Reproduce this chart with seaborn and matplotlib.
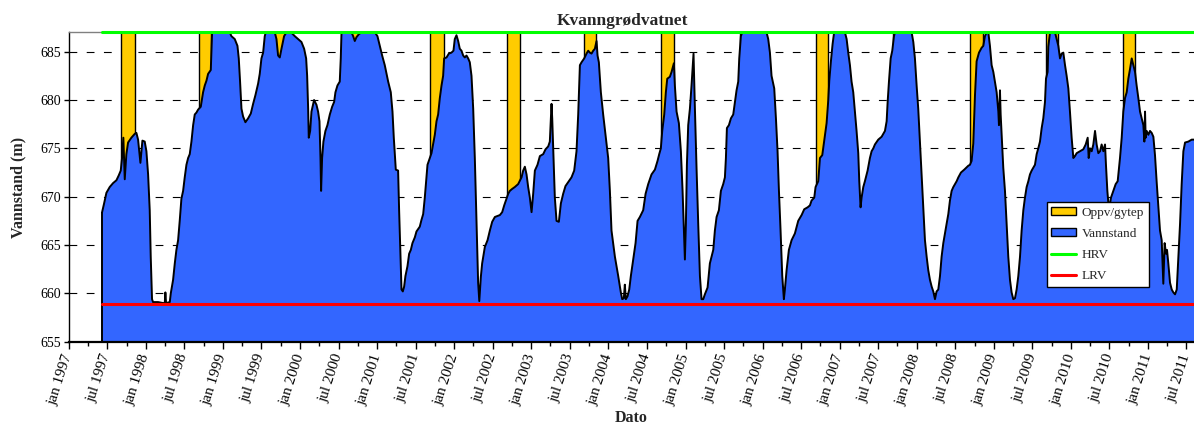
import numpy as np
import pandas as pd
import matplotlib
matplotlib.use("Agg")
import matplotlib.pyplot as plt
import matplotlib.dates as mdates
from matplotlib.patches import Patch
from matplotlib.lines import Line2D
from matplotlib.ticker import FuncFormatter
import seaborn as sns

# Water level of Kvanngrødvatnet: time as decimal year, level in metres
level_time = [
    1997.429, 1997.455, 1997.485, 1997.528, 1997.571, 1997.615, 1997.645, 1997.671,
    1997.688, 1997.705, 1997.723, 1997.744, 1997.766, 1997.809, 1997.853, 1997.874,
    1997.896, 1997.926, 1997.952, 1997.982, 1998.004, 1998.026, 1998.047, 1998.060,
    1998.077, 1998.090, 1998.155, 1998.220, 1998.242, 1998.250, 1998.259, 1998.307,
    1998.320, 1998.350, 1998.372, 1998.393, 1998.415, 1998.436, 1998.458, 1998.480,
    1998.501, 1998.523, 1998.545, 1998.566, 1998.588, 1998.610, 1998.631, 1998.653,
    1998.674, 1998.709, 1998.739, 1998.761, 1998.783, 1998.804, 1998.839, 1998.856,
    1999.085, 1999.107, 1999.150, 1999.185, 1999.202, 1999.219, 1999.237, 1999.258,
    1999.288, 1999.323, 1999.358, 1999.388, 1999.418, 1999.453, 1999.474, 1999.496,
    1999.518, 1999.539, 1999.552, 1999.669, 1999.691, 1999.712, 1999.734, 1999.756,
    1999.790, 1999.820, 1999.880, 1999.929, 1999.972, 2000.015, 2000.050, 2000.076,
    2000.089, 2000.102, 2000.110, 2000.128, 2000.145, 2000.179, 2000.210, 2000.231,
    2000.249, 2000.262, 2000.270, 2000.283, 2000.300, 2000.326, 2000.352, 2000.383,
    2000.413, 2000.439, 2000.456, 2000.482, 2000.512, 2000.525, 2000.534, 2000.543,
    2000.664, 2000.686, 2000.707, 2000.729, 2000.759, 2000.794, 2000.967, 2001.001,
    2001.031, 2001.062, 2001.096, 2001.140, 2001.174, 2001.196, 2001.213, 2001.239,
    2001.269, 2001.282, 2001.300, 2001.313, 2001.330, 2001.347, 2001.364, 2001.390,
    2001.412, 2001.434, 2001.455, 2001.486, 2001.507, 2001.550, 2001.572, 2001.594,
    2001.615, 2001.633, 2001.650, 2001.680, 2001.702, 2001.745, 2001.767, 2001.788,
    2001.810, 2001.832, 2001.853, 2001.866, 2001.897, 2001.927, 2001.961, 2001.987,
    2002.004, 2002.026, 2002.048, 2002.069, 2002.091, 2002.113, 2002.134, 2002.156,
    2002.178, 2002.199, 2002.221, 2002.243, 2002.264, 2002.286, 2002.307, 2002.322,
    2002.342, 2002.359, 2002.394, 2002.429, 2002.459, 2002.489, 2002.524, 2002.558,
    2002.589, 2002.619, 2002.645, 2002.675, 2002.697, 2002.718, 2002.748, 2002.783,
    2002.826, 2002.870, 2002.891, 2002.913, 2002.935, 2002.956, 2002.978, 2003.000,
    2003.021, 2003.043, 2003.077, 2003.108, 2003.151, 2003.181, 2003.216, 2003.237,
    2003.259, 2003.268, 2003.285, 2003.302, 2003.324, 2003.354, 2003.380, 2003.410,
    2003.440, 2003.475, 2003.518, 2003.553, 2003.583, 2003.605, 2003.627, 2003.648,
    2003.683, 2003.713, 2003.735, 2003.756, 2003.778, 2003.800, 2003.821, 2003.843,
    2003.856, 2003.873, 2003.899, 2003.929, 2003.960, 2003.994, 2004.016, 2004.037,
    2004.081, 2004.124, 2004.158, 2004.176, 2004.197, 2004.210, 2004.223, 2004.245,
    2004.267, 2004.288, 2004.318, 2004.349, 2004.375, 2004.405, 2004.448, 2004.479,
    2004.513, 2004.556, 2004.600, 2004.634, 2004.656, 2004.677, 2004.695, 2004.721,
    2004.742, 2004.760, 2004.794, 2004.816, 2004.846, 2004.859, 2004.881, 2004.911,
    2004.937, 2004.959, 2004.976, 2004.989, 2005.002, 2005.015, 2005.032, 2005.054,
    2005.075, 2005.101, 2005.119, 2005.140, 2005.162, 2005.184, 2005.205, 2005.227,
    2005.248, 2005.283, 2005.313, 2005.335, 2005.357, 2005.378, 2005.400, 2005.430,
    2005.456, 2005.486, 2005.508, 2005.521, 2005.534, 2005.560, 2005.586, 2005.616,
    2005.638, 2005.659, 2005.681, 2005.694, 2005.715, 2005.733, 2006.048, 2006.070,
    2006.092, 2006.113, 2006.148, 2006.170, 2006.191, 2006.209, 2006.230, 2006.252,
    2006.273, 2006.286, 2006.308, 2006.338, 2006.373, 2006.416, 2006.459, 2006.503,
    2006.537, 2006.581, 2006.611, 2006.632, 2006.667, 2006.684, 2006.719, 2006.741,
    2006.771, 2006.797, 2006.827, 2006.849, 2006.862, 2006.883, 2006.905, 2006.925,
    2007.065, 2007.087, 2007.108, 2007.130, 2007.151, 2007.173, 2007.195, 2007.216,
    2007.238, 2007.251, 2007.268, 2007.281, 2007.303, 2007.324, 2007.359, 2007.389,
    2007.411, 2007.433, 2007.454, 2007.497, 2007.541, 2007.584, 2007.606, 2007.619,
    2007.636, 2007.658, 2007.679, 2007.701, 2007.714, 2007.930, 2007.952, 2007.973,
    2007.995, 2008.016, 2008.038, 2008.060, 2008.081, 2008.103, 2008.125, 2008.146,
    2008.168, 2008.190, 2008.211, 2008.233, 2008.254, 2008.276, 2008.298, 2008.319,
    2008.341, 2008.362, 2008.384, 2008.406, 2008.427, 2008.449, 2008.471, 2008.514,
    2008.536, 2008.570, 2008.613, 2008.665, 2008.687, 2008.708, 2008.730, 2008.752,
    2008.773, 2008.804, 2008.838, 2008.860, 2008.881, 2008.903, 2008.925, 2008.946,
    2008.968, 2008.990, 2009.011, 2009.033, 2009.055, 2009.063, 2009.076, 2009.085,
    2009.098, 2009.119, 2009.141, 2009.163, 2009.184, 2009.206, 2009.227, 2009.249,
    2009.271, 2009.292, 2009.314, 2009.336, 2009.357, 2009.379, 2009.400, 2009.422,
    2009.444, 2009.465, 2009.487, 2009.530, 2009.552, 2009.573, 2009.595, 2009.617,
    2009.638, 2009.660, 2009.673, 2009.694, 2009.703, 2009.725, 2009.790, 2009.811,
    2009.833, 2009.855, 2009.876, 2009.898, 2009.920, 2009.941, 2009.963, 2009.984,
    2010.006, 2010.028, 2010.049, 2010.071, 2010.114, 2010.157, 2010.188, 2010.214,
    2010.227, 2010.244, 2010.266, 2010.287, 2010.309, 2010.330, 2010.352, 2010.374,
    2010.395, 2010.417, 2010.439, 2010.451, 2010.469, 2010.490, 2010.516, 2010.547,
    2010.577, 2010.603, 2010.633, 2010.655, 2010.676, 2010.698, 2010.720, 2010.741,
    2010.763, 2010.785, 2010.806, 2010.828, 2010.849, 2010.871, 2010.893, 2010.914,
    2010.936, 2010.949, 2010.958, 2010.966, 2010.979, 2011.001, 2011.022, 2011.044,
    2011.066, 2011.087, 2011.109, 2011.131, 2011.152, 2011.174, 2011.195, 2011.212,
    2011.230, 2011.243, 2011.260, 2011.282, 2011.304, 2011.325, 2011.347, 2011.369,
    2011.390, 2011.412, 2011.433, 2011.455, 2011.477, 2011.520, 2011.563, 2011.593,
]
level_m = [
    668.4, 669.3, 670.4, 671.0, 671.4, 671.7, 672.2, 672.7,
    674.0, 676.1, 671.8, 674.4, 675.6, 676.1, 676.5, 676.6,
    675.9, 673.5, 675.8, 675.7, 674.7, 672.3, 668.6, 663.8,
    659.4, 659.1, 659.1, 659.0, 659.0, 660.1, 659.0, 659.1,
    660.0, 661.4, 663.1, 664.5, 665.5, 667.5, 669.8, 670.6,
    672.0, 673.3, 674.0, 674.4, 675.7, 677.4, 678.5, 678.7,
    679.0, 679.3, 680.8, 681.5, 682.0, 682.7, 683.1, 687.0,
    687.0, 686.6, 686.3, 685.6, 684.3, 681.9, 679.1, 678.3,
    677.7, 678.1, 678.6, 679.6, 680.5, 681.7, 682.7, 684.3,
    684.9, 686.6, 687.0, 687.0, 686.3, 684.6, 684.4, 685.3,
    686.6, 687.0, 687.0, 686.6, 686.3, 686.0, 685.3, 684.3,
    682.5, 679.1, 676.1, 676.8, 678.8, 680.0, 679.5, 678.8,
    677.8, 674.0, 670.6, 674.0, 675.7, 676.8, 677.4, 678.5,
    679.3, 679.8, 680.8, 681.5, 681.9, 684.3, 686.8, 687.0,
    687.0, 686.6, 686.1, 686.5, 686.8, 687.0, 687.0, 686.6,
    685.6, 684.6, 683.6, 681.9, 680.8, 678.8, 676.1, 672.8,
    672.7, 668.6, 663.8, 660.4, 660.2, 660.7, 661.8, 662.8,
    664.1, 664.5, 665.2, 665.8, 666.4, 666.9, 667.6, 668.2,
    669.9, 671.6, 673.3, 674.0, 674.5, 676.4, 677.8, 678.5,
    680.2, 681.5, 682.5, 684.3, 684.4, 684.8, 684.9, 685.1,
    686.3, 686.7, 686.1, 685.3, 685.1, 684.6, 684.4, 684.6,
    684.3, 683.9, 682.5, 679.1, 674.0, 667.2, 661.1, 659.2,
    661.7, 663.1, 664.8, 665.5, 666.5, 667.4, 667.9, 668.0,
    668.1, 668.4, 669.1, 669.8, 670.3, 670.6, 670.8, 671.0,
    671.3, 672.0, 672.7, 673.1, 672.3, 671.0, 669.9, 668.4,
    670.3, 672.7, 673.3, 674.2, 674.4, 674.9, 675.2, 675.7,
    679.6, 678.1, 674.0, 669.9, 667.5, 667.4, 669.3, 670.3,
    671.1, 671.5, 672.0, 672.7, 674.7, 678.5, 683.6, 683.9,
    684.3, 684.8, 685.1, 684.9, 684.8, 685.1, 685.3, 686.1,
    684.6, 683.9, 680.8, 678.5, 676.4, 674.0, 670.6, 666.5,
    663.8, 661.8, 660.1, 659.4, 659.5, 660.9, 659.4, 659.7,
    660.4, 661.8, 663.5, 665.2, 667.5, 667.9, 668.6, 670.3,
    671.3, 672.3, 672.8, 673.7, 674.4, 675.0, 676.8, 678.5,
    680.8, 682.2, 682.4, 682.9, 683.8, 681.5, 678.8, 677.6,
    674.7, 670.6, 666.5, 663.5, 667.2, 673.3, 677.4, 679.1,
    681.5, 684.8, 679.1, 673.0, 667.2, 661.8, 659.4, 659.4,
    659.9, 660.6, 663.1, 663.8, 664.5, 666.5, 667.9, 668.6,
    670.6, 671.3, 672.0, 674.0, 677.1, 677.4, 678.1, 678.5,
    679.8, 681.0, 681.9, 684.3, 686.6, 687.0, 687.0, 686.3,
    684.9, 682.5, 681.2, 678.1, 674.7, 670.6, 666.5, 661.8,
    659.4, 660.4, 662.4, 664.5, 665.5, 666.2, 667.5, 668.1,
    668.7, 668.9, 669.1, 669.6, 669.9, 671.0, 671.6, 674.0,
    674.3, 675.8, 677.6, 680.0, 682.0, 684.0, 685.8, 687.0,
    687.0, 686.3, 684.9, 683.6, 681.9, 680.8, 678.8, 676.8,
    674.5, 671.6, 668.9, 669.9, 671.0, 671.6, 672.7, 674.0,
    674.7, 675.0, 675.4, 675.9, 676.2, 676.8, 677.8, 679.8,
    681.9, 684.3, 685.1, 686.6, 687.0, 687.0, 686.0, 684.3,
    681.5, 679.1, 675.7, 672.3, 668.9, 665.5, 663.8, 662.4,
    661.4, 660.7, 660.2, 659.4, 660.2, 660.4, 661.8, 663.8,
    665.2, 666.2, 667.2, 668.2, 669.6, 670.6, 671.0, 671.6,
    672.0, 672.5, 672.8, 673.2, 673.3, 673.7, 675.5, 680.5,
    684.0, 684.9, 685.4, 685.6, 686.6, 687.0, 687.0, 685.6,
    683.6, 682.9, 681.9, 680.8, 678.8, 677.4, 681.0, 678.5,
    676.4, 673.0, 670.6, 667.2, 663.8, 661.4, 660.1, 659.4,
    659.5, 660.4, 661.8, 663.8, 666.5, 668.6, 669.9, 671.0,
    671.6, 672.3, 672.7, 673.3, 674.4, 675.0, 675.7, 677.1,
    678.1, 679.8, 682.2, 682.9, 685.5, 687.0, 687.0, 686.3,
    685.6, 684.3, 684.8, 684.9, 683.6, 682.5, 681.2, 678.8,
    676.1, 674.0, 674.2, 674.5, 674.7, 674.9, 675.4, 676.1,
    674.0, 675.0, 674.7, 675.4, 676.8, 675.4, 674.5, 674.7,
    675.4, 674.7, 675.4, 673.3, 670.6, 668.6, 669.9, 670.6,
    671.3, 671.6, 674.0, 676.1, 678.8, 680.2, 680.8, 682.2,
    683.2, 684.3, 683.6, 682.9, 681.5, 680.2, 678.8, 678.1,
    677.4, 675.7, 678.8, 676.1, 676.8, 676.4, 676.8, 676.6,
    676.2, 674.3, 671.5, 669.0, 666.5, 665.5, 661.0, 665.2,
    664.1, 664.5, 663.1, 661.1, 660.4, 660.1, 659.9, 660.4,
    663.8, 667.2, 671.3, 674.7, 675.6, 675.7, 675.9, 675.9,
]

# Filling / spawning period for each year
period_start = [
    "1997-09-05", "1998-09-10", "1999-09-01", "2000-08-30", "2001-09-08",
    "2002-09-08", "2003-09-08", "2004-09-07", "2005-09-13", "2006-09-11",
    "2007-09-09", "2008-09-11", "2009-09-06", "2010-09-04",
]
period_end = [
    "1997-11-10", "1998-11-05", "1999-10-31", "2000-11-01", "2001-11-12",
    "2002-11-07", "2003-11-05", "2004-11-08", "2005-11-04", "2006-11-05",
    "2007-11-08", "2008-11-10", "2009-10-31", "2010-10-29",
]

hrv_m = 687.0   # highest regulated level
lrv_m = 658.9   # lowest regulated level
y_ticks = [655, 660, 665, 670, 675, 680, 685]
month_names = {1: "jan", 4: "apr", 7: "jul", 10: "okt"}
axis_start, axis_end = 1997.0, 2011.593

blue = "#3366FF"
yellow = "#FFCC00"
green = "#00FF00"
red = "#FF0000"


def decimal_year_to_date(t):
    t = np.asarray(t, dtype=float)
    return pd.Timestamp("1997-01-01") + pd.to_timedelta((t - 1997.0) * 365.25, unit="D")


dates = decimal_year_to_date(level_time)
df = pd.DataFrame({"Dato": dates, "Vannstand": level_m})
ref = pd.DataFrame({"Dato": [dates[0], dates[-1]],
                    "HRV": [hrv_m, hrv_m], "LRV": [lrv_m, lrv_m]})

sns.set_style("white")
plt.rcParams["font.family"] = ["Liberation Serif", "DejaVu Serif"]

fig = plt.figure(figsize=(11.94, 4.28), dpi=100)
ax = fig.add_axes([0.0578, 0.2016, 0.9422, 0.7229])

ax.set_ylim(y_ticks[0], hrv_m)
lim = decimal_year_to_date([axis_start, axis_end])
ax.set_xlim(lim[0], lim[1])

# yellow period bands sit under the water-level area
for s, e in zip(period_start, period_end):
    ax.axvspan(pd.Timestamp(s), pd.Timestamp(e), facecolor=yellow,
               edgecolor="black", linewidth=1.0, zorder=1)

ax.fill_between(df["Dato"], y_ticks[0], df["Vannstand"], facecolor=blue,
                edgecolor="none", zorder=2)
ax.vlines(df["Dato"].iloc[0], y_ticks[0], df["Vannstand"].iloc[0],
          color="black", linewidth=1.4, zorder=3)
sns.lineplot(data=df, x="Dato", y="Vannstand", color="black", linewidth=1.4,
             estimator=None, zorder=3, ax=ax)
sns.lineplot(data=ref, x="Dato", y="LRV", color=red, linewidth=2.2,
             estimator=None, zorder=4, ax=ax)
sns.lineplot(data=ref, x="Dato", y="HRV", color=green, linewidth=2.2,
             estimator=None, zorder=5, clip_on=False, ax=ax)

# grid and axes
ax.set_axisbelow(True)
ax.yaxis.grid(True, color="black", linestyle=(0, (7, 8.5)), linewidth=0.8)
ax.xaxis.grid(False)
ax.set_yticks(y_ticks)

ax.xaxis.set_major_locator(mdates.MonthLocator(bymonth=(1, 7)))
ax.xaxis.set_minor_locator(mdates.MonthLocator(bymonth=(4, 10)))


def month_label(v, pos):
    d = mdates.num2date(v)
    return f"{month_names[d.month]} {d.year}"


ax.xaxis.set_major_formatter(FuncFormatter(month_label))
ax.tick_params(axis="x", which="major", direction="out", length=5, width=1,
               pad=4, labelsize=11, bottom=True, colors="black")
ax.tick_params(axis="x", which="minor", direction="out", length=3, width=1,
               bottom=True, colors="black")
ax.tick_params(axis="y", direction="out", length=3.5, width=1, pad=2.5,
               labelsize=10, left=True, colors="black")
plt.setp(ax.get_xticklabels(), rotation=72, ha="right", va="center",
         rotation_mode="anchor")

for side in ("left", "bottom"):
    ax.spines[side].set_color("black")
ax.spines["left"].set_linewidth(1.0)
ax.spines["bottom"].set_linewidth(1.6)
ax.spines["top"].set_color("#808080")
ax.spines["top"].set_linewidth(1.0)
ax.spines["right"].set_visible(False)

ax.set_title("Kvanngrødvatnet", fontsize=12.5, fontweight="bold", pad=5, x=0.4916)
ax.set_ylabel("Vannstand (m)", fontsize=11.5, fontweight="bold", labelpad=10)
ax.set_xlabel("Dato", fontsize=11.5, fontweight="bold", labelpad=2)

handles = [
    Patch(facecolor=yellow, edgecolor="black", linewidth=1.0, label="Oppv/gytep"),
    Patch(facecolor=blue, edgecolor="black", linewidth=1.0, label="Vannstand"),
    Line2D([], [], color=green, linewidth=2.2, label="HRV"),
    Line2D([], [], color=red, linewidth=2.2, label="LRV"),
]
leg = ax.legend(handles=handles, loc="upper left", bbox_to_anchor=(0.869, 0.4515),
                borderaxespad=0, frameon=True, fancybox=False, edgecolor="black",
                framealpha=1, fontsize=9.5, handlelength=1.9, handleheight=0.5,
                handletextpad=0.4, labelspacing=0.7, borderpad=0.35)
leg.get_frame().set_linewidth(1.0)
leg.set_zorder(10)

fig.savefig("out.png", dpi=100)
